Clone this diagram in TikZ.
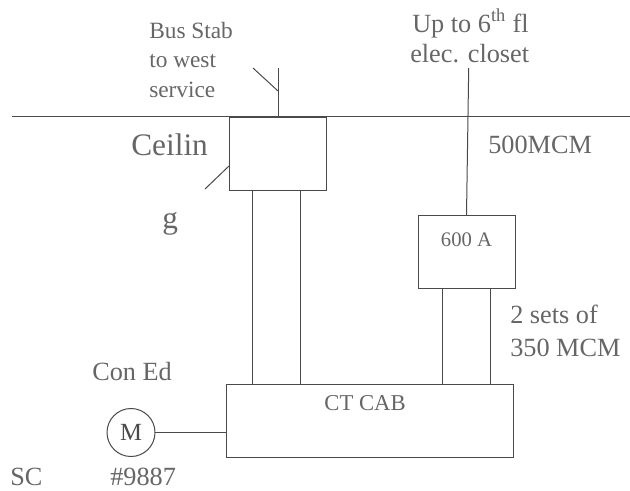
\documentclass[tikz,border=0pt]{standalone}
\usepackage{fontspec}
\setmainfont{Liberation Serif}
\usetikzlibrary{calc}
\definecolor{wirestroke}{HTML}{4A4A4A}
\definecolor{labeltext}{HTML}{666666}
\tikzset{
  wire/.style={
    draw=wirestroke,
    line width=0.75pt
  },
  cabinet/.style={
    rectangle,
    draw=wirestroke,
    fill=white,
    line width=0.75pt,
    outer sep=0pt,
    inner sep=0pt
  },
  meter/.style={
    circle,
    draw=wirestroke,
    line width=0.75pt,
    minimum size=36pt,
    outer sep=0pt,
    inner sep=0pt,
    font=\fontsize{18.5}{20}\selectfont
  },
  smalllabel/.style={
    text=labeltext,
    align=left,
    inner sep=0pt,
    font=\fontsize{17.5}{22}\selectfont
  },
  biglabel/.style={
    text=labeltext,
    align=left,
    inner sep=0pt,
    font=\fontsize{19.7}{28}\selectfont
  }
}
\begin{document}
\begin{tikzpicture}[x=0.75pt,y=-0.75pt]
  \useasboundingbox (0,0) rectangle (630,490);

  \node[cabinet,minimum width=72.75pt,minimum height=54.75pt] (ceilbox) at (277.5,153.5) {};
  \node[cabinet,minimum width=72.75pt,minimum height=54.75pt] (breaker) at (466.5,251.5) {};
  \node[text=labeltext,inner sep=0pt,font=\fontsize{15.5}{18}\selectfont] (breakerlabel) at (466.5,240) {600 A};
  \node[cabinet,minimum width=215.25pt,minimum height=54.75pt] (ctcab) at (369.5,420.5) {};
  \node[text=labeltext,inner sep=0pt,font=\fontsize{17}{20}\selectfont] (ctcablabel) at (365,403) {CT CAB};
  \node[meter,text=wirestroke] (meter) at (131,432.5) {M};

  \coordinate (ceilleft) at (12,116.5);
  \coordinate (ceilright) at (630,116.5);
  \coordinate (stabtop) at (278,68);
  \coordinate (stabknee) at (278,91);
  \coordinate (stabtick) at (253,68);
  \coordinate (sidetick) at (205,189);
  \coordinate (sideknee) at (229,166);
  \coordinate (risertop) at (468.7,68);
  \coordinate (feedA) at (252.5,300);
  \coordinate (feedB) at (300.5,300);
  \coordinate (feedC) at (442,300);
  \coordinate (feedD) at (490,300);

  % Ceiling line and bus stab.
  \draw[wire] (ceilleft) -- (ceilright);
  \draw[wire] (stabtop) -- (ceilbox.north -| stabtop);
  \draw[wire] (stabtick) -- (stabknee);
  \draw[wire] (sidetick) -- (sideknee);

  % Riser and feeders.
  \draw[wire] (risertop) -- (breaker.north);
  \draw[wire] (ceilbox.south -| feedA) -- (ctcab.north -| feedA);
  \draw[wire] (ceilbox.south -| feedB) -- (ctcab.north -| feedB);
  \draw[wire] (breaker.south -| feedC) -- (ctcab.north -| feedC);
  \draw[wire] (breaker.south -| feedD) -- (ctcab.north -| feedD);
  \draw[wire] (meter.east) -- (ctcab.west |- meter.east);

  \node[smalllabel,anchor=north west] (stablabel) at (149,22) {Bus Stab\\to west\\service};
  \node[biglabel,anchor=base west,font=\fontsize{23.5}{28}\selectfont] (ceilinlabel) at (131,155) {Ceilin};
  \node[biglabel,anchor=base west,font=\fontsize{23.5}{28}\selectfont] (glabel) at (162,228) {g};
  \node[biglabel,anchor=base west] (uplabel) at (412,32) {Up to 6\textsuperscript{th} fl};
  \node[biglabel,anchor=base west] (closetlabel) at (410,62) {elec. closet};
  \node[biglabel,anchor=base west] (mcmlabel) at (488,153) {500MCM};
  \node[biglabel,anchor=base west] (setslabel) at (510,323) {2 sets of};
  \node[biglabel,anchor=base west] (sizelabel) at (510,356) {350 MCM};
  \node[biglabel,anchor=base west] (conedlabel) at (92,380) {Con Ed};
  \node[biglabel,anchor=base west] (sclabel) at (10,485) {SC};
  \node[biglabel,anchor=base west] (numlabel) at (110,485) {\#9887};
\end{tikzpicture}
\end{document}
